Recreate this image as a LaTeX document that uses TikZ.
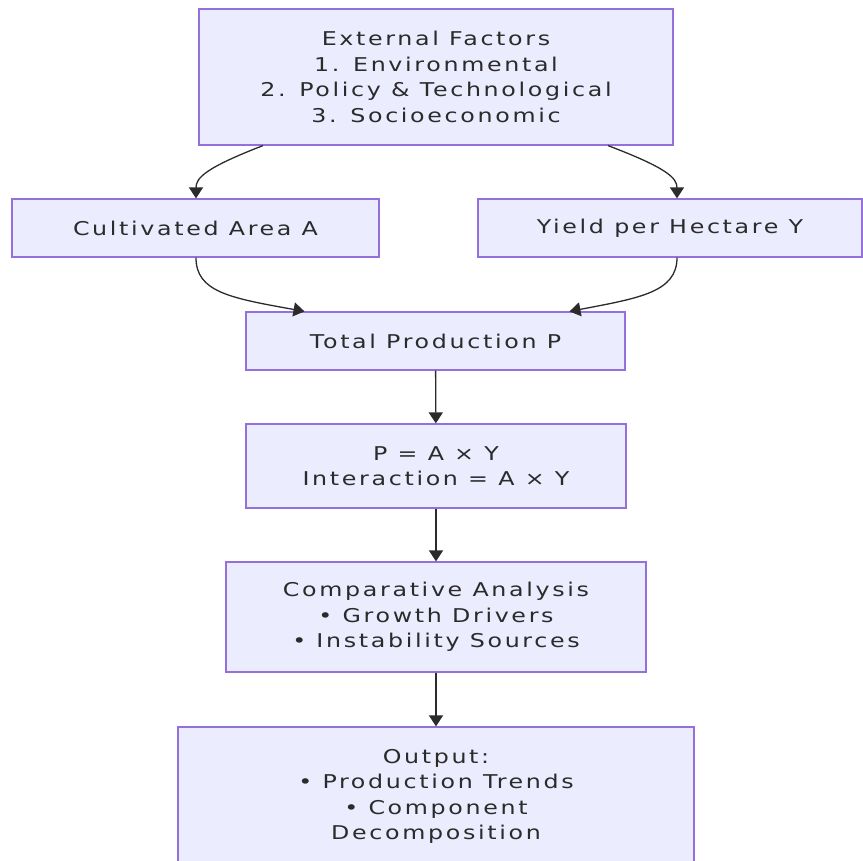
\documentclass[tikz,border=0pt]{standalone}
\usepackage{fontspec}
\setmainfont{DejaVu Sans}[FakeStretch=1.25,LetterSpace=14]
\usetikzlibrary{arrows.meta}
\definecolor{boxfill}{HTML}{ECECFF}
\definecolor{boxline}{HTML}{9370DB}
\definecolor{ink}{HTML}{2B2B2B}
\begin{document}
\begin{tikzpicture}[x=1pt, y=-1pt, font=\fontsize{19}{25.5}\selectfont,
    box/.style = {draw=boxline, fill=boxfill, line width=1.2pt, text=ink,
        align=center, inner sep=0pt},
    flow/.style = {draw=ink, line width=1.3pt, -{Triangle[length=11pt,width=14pt]}}]
    \useasboundingbox (0,0) rectangle (863,861);
    \clip (0,0) rectangle (863,861);

    \node[box, minimum width=474, minimum height=136] (ext) at (436,77)
        {External Factors\\1. Environmental\\2. Policy \& Technological\\3. Socioeconomic};
    \node[box, minimum width=367, minimum height=58] (area) at (195.5,228) {Cultivated Area A};
    \node[box, minimum width=384, minimum height=58] (yield) at (670,228) {Yield per Hectare Y};
    \node[box, minimum width=379, minimum height=58] (prod) at (435.5,341) {Total Production P};
    \node[box, minimum width=380, minimum height=84] (formula) at (436,466)
        {P = A × Y\\Interaction = A × Y};
    \node[box, minimum width=420, minimum height=110] (comp) at (436,617)
        {Comparative Analysis\\• Growth Drivers\\• Instability Sources};
    \node[box, minimum width=516, minimum height=160] (out) at (436,807)
        {Output:\\• Production Trends\\• Component\\Decomposition\\[0pt]};

    \draw[flow] ([xshift=-173]ext.south) .. controls (205,168) and (196,178) .. ([xshift=0.5]area.north);
    \draw[flow] ([xshift=172]ext.south) .. controls (667,168) and (677,178) .. ([xshift=7]yield.north);
    \draw[flow] ([xshift=0.5]area.south) .. controls (196,292) and (230,298) .. ([xshift=-131]prod.north);
    \draw[flow] ([xshift=7]yield.south) .. controls (677,292) and (640,298) .. ([xshift=134]prod.north);
    \draw[flow] (prod) -- (formula);
    \draw[flow] (formula) -- (comp);
    \draw[flow] (comp) -- (out);

\end{tikzpicture}
\end{document}
